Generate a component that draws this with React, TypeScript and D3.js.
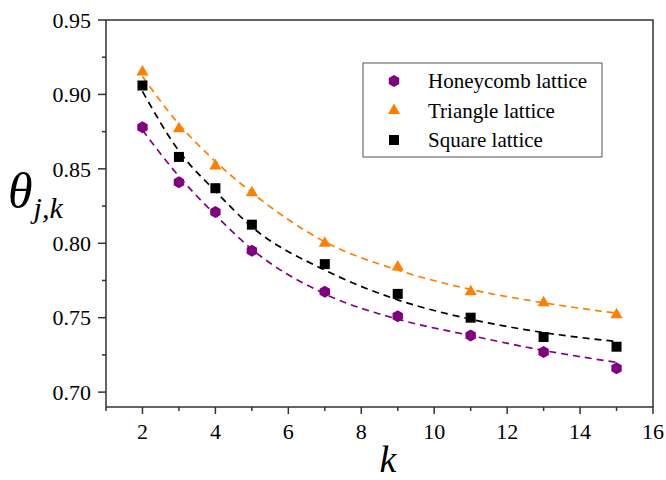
import React from "react";
import * as d3 from "d3";

// measured k values
const ks = [2, 3, 4, 5, 7, 9, 11, 13, 15];
const honeycomb = [0.878, 0.841, 0.821, 0.795, 0.7675, 0.751, 0.738, 0.727, 0.716];
const triangle = [0.915, 0.877, 0.852, 0.834, 0.8, 0.784, 0.7675, 0.76, 0.752];
const square = [0.906, 0.858, 0.837, 0.8125, 0.786, 0.766, 0.75, 0.737, 0.7305];

// fitted curves at the same k
const honeycombFit = [0.876, 0.845, 0.819, 0.796, 0.766, 0.749, 0.738, 0.728, 0.72];
const triangleFit = [0.912, 0.88, 0.855, 0.834, 0.801, 0.782, 0.769, 0.76, 0.753];
const squareFit = [0.902, 0.862, 0.835, 0.811, 0.782, 0.762, 0.749, 0.74, 0.734];

const xTicks = [2, 4, 6, 8, 10, 12, 14, 16];
const xMinor = [1, 3, 5, 7, 9, 11, 13, 15];
const yTicks = [0.7, 0.75, 0.8, 0.85, 0.9, 0.95];
const yMinor = [0.725, 0.775, 0.825, 0.875, 0.925];

const legendNames = ["Honeycomb lattice", "Triangle lattice", "Square lattice"];

const font = "'Liberation Serif', 'Times New Roman', serif";
const purple = "#800080";
const orange = "#ff8000";
const black = "#000000";

const hexPath = (r) => {
  const pts = d3.range(6).map((i) => {
    const a = (Math.PI / 3) * i - Math.PI / 2;
    return [r * Math.cos(a), r * Math.sin(a)];
  });
  return "M" + pts.map((p) => p.join(",")).join("L") + "Z";
};

const triPath = d3.symbol(d3.symbolTriangle, 64)();
const sqPath = d3.symbol(d3.symbolSquare, 100)();
const hex = hexPath(6);

const series = [
  { name: legendNames[0], values: honeycomb, fit: honeycombFit, color: purple, shape: hex },
  { name: legendNames[1], values: triangle, fit: triangleFit, color: orange, shape: triPath },
  { name: legendNames[2], values: square, fit: squareFit, color: black, shape: sqPath },
];

export default function App() {
  const width = 666;
  const height = 480;
  const left = 106;
  const right = 653;
  const top = 20;
  const bottom = 407;

  const x = d3.scaleLinear().domain([1, 16]).range([left, right]);
  const y = d3.scaleLinear().domain([0.69, 0.95]).range([bottom, top]);

  const line = d3
    .line<number>()
    .x((d, i) => x(ks[i]))
    .y((d) => y(d))
    .curve(d3.curveMonotoneX);

  const axisColor = "#333";

  return (
    <div style={{ position: "absolute", left: 0, top: 0, fontFamily: font }}>
      <svg width={width} height={height} style={{ display: "block", background: "#fff" }}>
        {/* frame */}
        <rect
          x={left}
          y={top}
          width={right - left}
          height={bottom - top}
          fill="none"
          stroke={axisColor}
          strokeWidth={1.5}
        />

        {/* x ticks */}
        {xTicks.map((t) => (
          <g key={"xt" + t}>
            <line x1={x(t)} x2={x(t)} y1={bottom} y2={bottom + 7} stroke={axisColor} strokeWidth={1.5} />
            <text x={x(t)} y={bottom + 32} textAnchor="middle" fontSize={22}>
              {t}
            </text>
          </g>
        ))}
        {xMinor.map((t) => (
          <line key={"xm" + t} x1={x(t)} x2={x(t)} y1={bottom} y2={bottom + 4} stroke={axisColor} strokeWidth={1.5} />
        ))}

        {/* y ticks */}
        {yTicks.map((t) => (
          <g key={"yt" + t}>
            <line x1={left - 8} x2={left} y1={y(t)} y2={y(t)} stroke={axisColor} strokeWidth={1.5} />
            <text x={left - 15} y={y(t)} dy="0.35em" textAnchor="end" fontSize={22}>
              {d3.format(".2f")(t)}
            </text>
          </g>
        ))}
        {yMinor.map((t) => (
          <line key={"ym" + t} x1={left - 4} x2={left} y1={y(t)} y2={y(t)} stroke={axisColor} strokeWidth={1.5} />
        ))}

        {/* axis titles */}
        <text x={388} y={472} textAnchor="middle" fontStyle="italic" fontSize={38}>
          k
        </text>
        <text x={8} y={208} fontStyle="italic" fontSize={50}>
          θ
          <tspan fontSize={30} dx={1} dy={10}>
            j,k
          </tspan>
        </text>

        {/* fit curves */}
        {series.map((s) => (
          <path
            key={"fit" + s.name}
            d={line(s.fit)}
            fill="none"
            stroke={s.color}
            strokeWidth={1.7}
            strokeDasharray="7 5"
          />
        ))}

        {/* points */}
        {series.map((s) =>
          s.values.map((v, i) => (
            <path
              key={s.name + i}
              d={s.shape}
              transform={`translate(${x(ks[i])},${y(v)})`}
              fill={s.color}
            />
          ))
        )}

        {/* legend */}
        <rect x={363} y={63} width={239} height={94} fill="#fff" stroke="#555" strokeWidth={1} />
        {series.map((s, i) => (
          <g key={"lg" + s.name} transform={`translate(394,${81 + i * 29.5})`}>
            <path d={s.shape} fill={s.color} />
            <text x={34} dy="0.35em" fontSize={21}>
              {s.name}
            </text>
          </g>
        ))}
      </svg>
    </div>
  );
}
